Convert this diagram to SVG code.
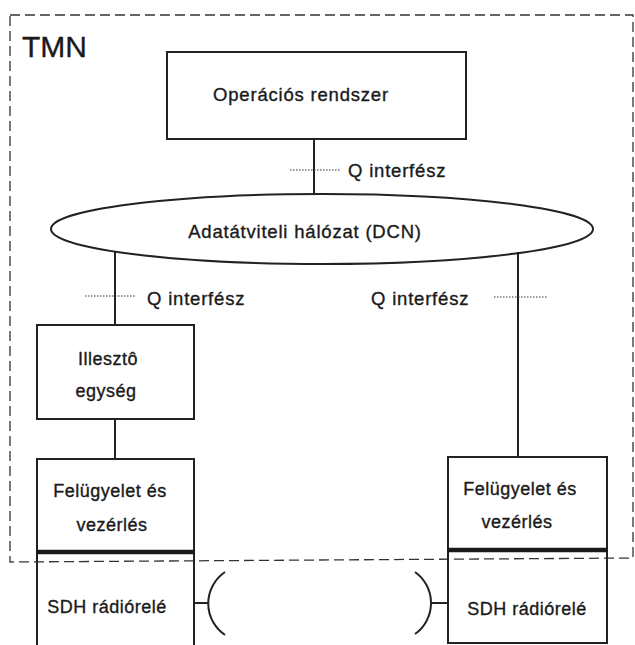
<svg xmlns="http://www.w3.org/2000/svg" width="635" height="645" viewBox="0 0 635 645">
<style>
.box{fill:none;stroke:#222;stroke-width:2}
.ln{fill:none;stroke:#222;stroke-width:2}
.dot{fill:none;stroke:#333;stroke-width:1;stroke-dasharray:1.5 1.5}
.sep{stroke:#1a1a1a;stroke-width:4.5}
.border{fill:none;stroke:#333;stroke-width:1.3;stroke-dasharray:10 5}
text{font-family:"Liberation Sans",Arial,sans-serif;fill:#1a1a1a;stroke:#1a1a1a;stroke-width:0.35}
.t{font-size:18.5px;letter-spacing:0.8px}
.b{font-size:18px;letter-spacing:0.5px;text-anchor:middle}
</style>
<rect width="635" height="645" fill="#fff"/>
<g id="tmn">
<path class="border" d="M10,15 L633,15 L633,558 L10,562 Z"/>
<text x="22" y="57" style="font-size:30px">TMN</text>
</g>
<g id="connectors">
<line class="ln" x1="314" y1="139" x2="314" y2="194"/>
<line class="ln" x1="115" y1="251" x2="115" y2="325"/>
<line class="ln" x1="518" y1="252" x2="518" y2="457"/>
<line class="ln" x1="115" y1="419" x2="115" y2="459"/>
<line class="dot" x1="290" y1="170" x2="340" y2="170"/>
<line class="dot" x1="85" y1="296" x2="136" y2="296"/>
<line class="dot" x1="494" y1="297" x2="547" y2="297"/>
<text class="t" x="348" y="177">Q interfész</text>
<text class="t" x="147" y="305">Q interfész</text>
<text class="t" x="371" y="305">Q interfész</text>
</g>
<g id="operacios">
<rect class="box" x="167" y="52" width="299" height="87"/>
<text class="t" x="301" y="101" text-anchor="middle">Operációs rendszer</text>
</g>
<g id="dcn">
<ellipse class="box" cx="322" cy="229" rx="271" ry="35"/>
<text class="t" x="305" y="238" text-anchor="middle">Adatátviteli hálózat (DCN)</text>
</g>
<g id="illeszto">
<rect class="box" x="37" y="325" width="157" height="94"/>
<text class="b" x="108" y="365">Illesztô</text>
<text class="b" x="106" y="397">egység</text>
</g>
<g id="felugyelet-left">
<rect class="box" x="37" y="459" width="157" height="93"/>
<text class="b" x="110" y="497">Felügyelet és</text>
<text class="b" x="112" y="531">vezérlés</text>
</g>
<g id="sdh-left">
<rect class="box" x="37" y="552" width="157" height="97"/>
<line class="sep" x1="36" y1="552" x2="195" y2="552"/>
<text class="b" x="107" y="613">SDH rádiórelé</text>
<line class="ln" x1="194" y1="603" x2="208" y2="603"/>
<path class="ln" d="M225,572 A38,38 0 0 0 225,635"/>
</g>
<g id="felugyelet-right">
<rect class="box" x="448" y="457" width="159" height="93"/>
<text class="b" x="520" y="495">Felügyelet és</text>
<text class="b" x="517" y="528">vezérlés</text>
</g>
<g id="sdh-right">
<rect class="box" x="448" y="550" width="159" height="93"/>
<line class="sep" x1="447" y1="550" x2="608" y2="550"/>
<text class="b" x="527" y="615">SDH rádiórelé</text>
<line class="ln" x1="430" y1="603" x2="448" y2="603"/>
<path class="ln" d="M415,572 A38,38 0 0 1 415,634"/>
</g>
</svg>
